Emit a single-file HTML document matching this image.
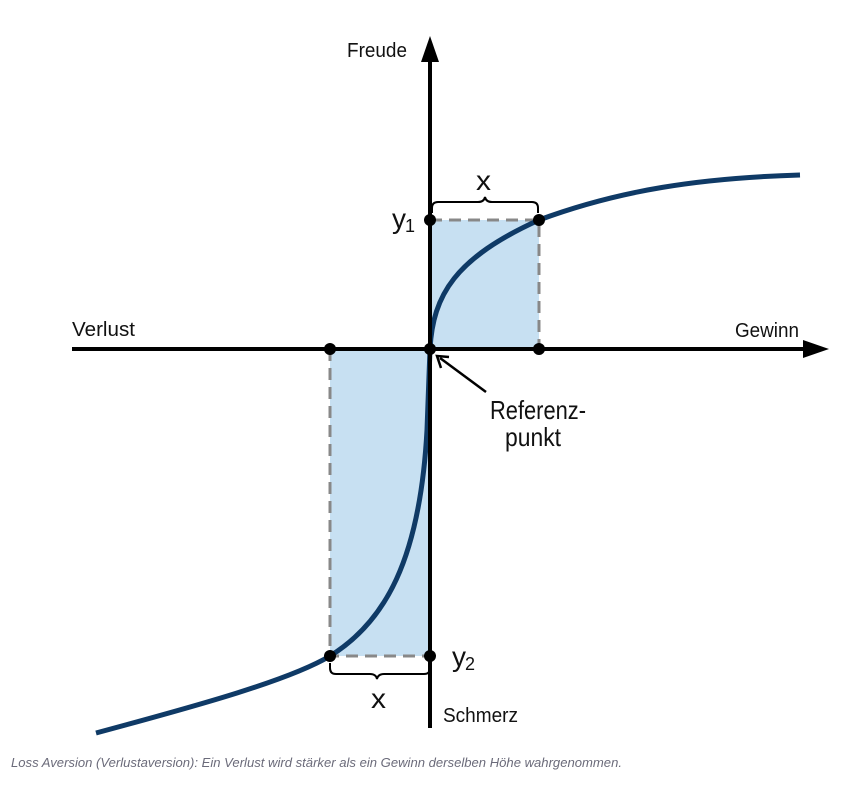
<!DOCTYPE html>
<html><head><meta charset="utf-8"><style>
html,body{margin:0;padding:0;background:#fff;width:854px;height:785px;overflow:hidden}
svg{display:block}
text{font-family:"Liberation Sans",sans-serif;fill:#111}
</style></head><body>
<svg width="854" height="785" viewBox="0 0 854 785" xmlns="http://www.w3.org/2000/svg">
<rect x="430" y="220" width="109" height="129" fill="#c7e0f2"/>
<rect x="330" y="349" width="100" height="307" fill="#c7e0f2"/>
<g stroke="#888" stroke-width="3" stroke-dasharray="12,7" fill="none">
<path d="M430,220 H539 V349"/>
<path d="M330,349 V656 H430"/>
</g>
<path d="M96,733 C200,705 290,680 330,656 C385,622 420,560 427,430 L430,349" stroke="#0f3a66" stroke-width="5" fill="none"/>
<path d="M430,349 C433,295 455,258 539,220 C620,190 700,178 800,175" stroke="#0f3a66" stroke-width="5" fill="none"/>
<line x1="430" y1="60" x2="430" y2="728" stroke="#000" stroke-width="4"/>
<polygon points="430,36 421,62 439,62" fill="#000"/>
<line x1="72" y1="349" x2="805" y2="349" stroke="#000" stroke-width="4"/>
<polygon points="829,349 803,340 803,358" fill="#000"/>
<g fill="#000">
<circle cx="430" cy="220" r="6"/><circle cx="539" cy="220" r="6"/>
<circle cx="430" cy="349" r="6"/><circle cx="539" cy="349" r="6"/><circle cx="330" cy="349" r="6"/>
<circle cx="330" cy="656" r="6"/><circle cx="430" cy="656" r="6"/>
</g>
<path d="M432,213 v-5 q0,-6 6,-6 h40 q6,0 7,-5 q1,5 7,5 h40 q6,0 6,6 v5" stroke="#000" stroke-width="2" fill="none"/>
<path d="M330,663 v5 q0,6 6,6 h34 q6,0 7,5 q1,-5 7,-5 h40 q6,0 6,-6 v-5" stroke="#000" stroke-width="2" fill="none"/>
<line x1="486" y1="392" x2="440" y2="358" stroke="#000" stroke-width="2.5"/>
<polyline points="441,368 437,356 449,357" stroke="#000" stroke-width="2.5" fill="none"/>
<text x="347" y="57" font-size="20" textLength="60" lengthAdjust="spacingAndGlyphs">Freude</text>
<text x="72" y="336" font-size="20" textLength="63" lengthAdjust="spacingAndGlyphs">Verlust</text>
<text x="735" y="337" font-size="20" textLength="64" lengthAdjust="spacingAndGlyphs">Gewinn</text>
<text x="490" y="419" font-size="26" textLength="96" lengthAdjust="spacingAndGlyphs">Referenz-</text>
<text x="505" y="446" font-size="26" textLength="56" lengthAdjust="spacingAndGlyphs">punkt</text>
<text x="443" y="722" font-size="20" textLength="75" lengthAdjust="spacingAndGlyphs">Schmerz</text>
<text x="476" y="190" font-size="28" textLength="15" lengthAdjust="spacingAndGlyphs">x</text>
<text x="371" y="708" font-size="28" textLength="15" lengthAdjust="spacingAndGlyphs">x</text>
<text x="392" y="228" font-size="28" textLength="14" lengthAdjust="spacingAndGlyphs">y</text><text x="405" y="232" font-size="18">1</text>
<text x="452" y="666" font-size="28" textLength="14" lengthAdjust="spacingAndGlyphs">y</text><text x="465" y="670" font-size="18">2</text>
<text x="11" y="767" font-size="13" font-style="italic" textLength="611" lengthAdjust="spacingAndGlyphs" style="fill:#6b6b7a">Loss Aversion (Verlustaversion): Ein Verlust wird stärker als ein Gewinn derselben Höhe wahrgenommen.</text>
</svg>
</body></html>
